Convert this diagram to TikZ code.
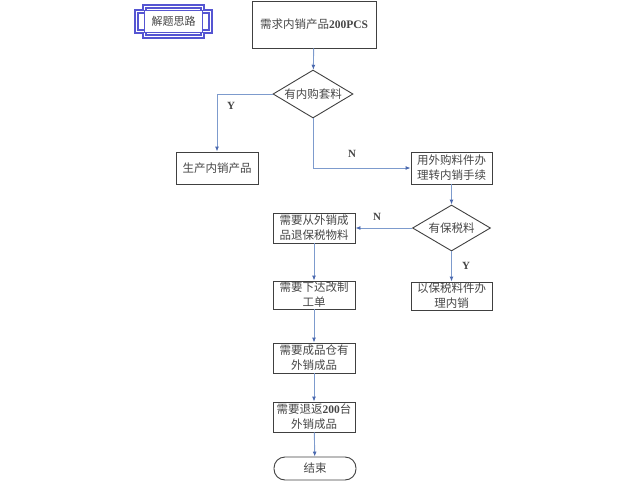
\documentclass[tikz,border=0pt]{standalone}
\usepackage{fontspec}
\setmainfont{Liberation Serif}
\newfontfamily\cjk{Noto Sans CJK SC}
\usetikzlibrary{shapes.geometric,arrows.meta}
\definecolor{boxline}{RGB}{64,64,64}
\definecolor{txt}{RGB}{70,70,70}
\definecolor{conn}{RGB}{125,155,205}
\definecolor{tip}{RGB}{75,105,175}
\definecolor{plaque}{RGB}{85,85,210}
\newcommand{\lat}[1]{{\rmfamily\bfseries #1}}
\tikzset{
  box/.style={draw=boxline, line width=0.9pt, rectangle, inner sep=0pt, align=center,
    text=txt, font=\cjk\fontsize{11.5}{15}\selectfont},
  dec/.style={draw=boxline, line width=0.9pt, diamond, inner sep=0pt, aspect=1.7,
    text=txt, font=\cjk\fontsize{11.5}{15}\selectfont},
  term/.style={box, rounded corners=11pt},
  conn/.style={draw=conn, line width=0.9pt, -{Latex[length=5pt,width=4pt,color=tip]}},
  yn/.style={text=txt, font=\fontsize{11}{13}\selectfont\bfseries}
}
\begin{document}
\begin{tikzpicture}[x=1pt,y=-1pt]
\useasboundingbox (0,0) rectangle (640,482);
% header plaque
\draw[plaque, line width=1.1pt]
  (143,5) -- (204,5) -- (204,10) -- (212,10) -- (212,33) -- (204,33) -- (204,38)
  -- (143,38) -- (143,33) -- (135,33) -- (135,10) -- (143,10) -- cycle;
\draw[plaque, line width=1.1pt]
  (146,8) -- (201,8) -- (201,13) -- (209,13) -- (209,30) -- (201,30) -- (201,35)
  -- (146,35) -- (146,30) -- (138,30) -- (138,13) -- (146,13) -- cycle;
\node[draw=plaque, line width=1pt, fill=white, minimum width=58pt, minimum height=22pt,
  inner sep=0pt, text=txt, font=\cjk\fontsize{11}{13}\selectfont] (hdr) at (173.5,21.5) {解题思路};
% nodes
\node[box, minimum width=124pt, minimum height=47pt] (top) at (314,24.5) {需求内销产品\lat{200PCS}};
\node[dec, minimum width=80pt, minimum height=48pt] (d1) at (313,94) {有内购套料};
\node[box, minimum width=82pt, minimum height=32pt] (b1) at (217,168) {生产内销产品};
\node[box, minimum width=81pt, minimum height=32pt] (b2) at (451.5,168) {用外购料件办\\理转内销手续};
\node[dec, minimum width=78pt, minimum height=46pt] (d2) at (451.5,228) {有保税料};
\node[box, minimum width=82pt, minimum height=30pt] (b3) at (314,228) {需要从外销成\\品退保税物料};
\node[box, minimum width=81pt, minimum height=28pt] (b4) at (451.5,296) {以保税料件办\\理内销};
\node[box, minimum width=82pt, minimum height=28pt] (b5) at (314,295) {需要下达改制\\工单};
\node[box, minimum width=82pt, minimum height=30pt] (b6) at (314,358) {需要成品仓有\\外销成品};
\node[box, minimum width=82pt, minimum height=30pt] (b7) at (314,417) {需要退返\lat{200}台\\外销成品};
\node[term, minimum width=82pt, minimum height=23pt] (end) at (315,468.5) {结束};
% connectors
\draw[conn] (top) -- (d1);
\draw[conn] (d1.west) -| (b1.north);
\draw[conn] (d1.south) |- (b2.west);
\draw[conn] (b2) -- (d2);
\draw[conn] (d2.west) -- (b3.east);
\draw[conn] (d2) -- (b4);
\draw[conn] (b3) -- (b5);
\draw[conn] (b5) -- (b6);
\draw[conn] (b6) -- (b7);
\draw[conn] (b7) -- (end);
% labels
\node[yn] (ly) at (231,106) {Y};
\node[yn] (ln) at (352,154) {N};
\node[yn] (ln2) at (377,217) {N};
\node[yn] (ly2) at (466,266) {Y};
\end{tikzpicture}
\end{document}
